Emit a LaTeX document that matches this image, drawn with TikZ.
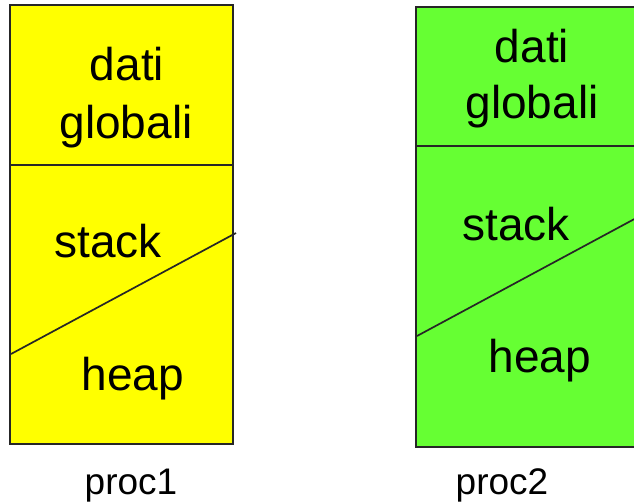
\documentclass[tikz,border=0pt]{standalone}
\usepackage{fontspec}
\setmainfont{Liberation Sans}
\definecolor{procyellow}{HTML}{FFFF00}
\definecolor{procgreen}{HTML}{66FF33}
\tikzset{
	area/.style={font=\fontsize{46}{46}\selectfont, anchor=base, inner sep=0pt},
	proclabel/.style={font=\fontsize{37}{37}\selectfont, anchor=base, inner sep=0pt},
	edge/.style={line width=1.7pt, draw=black!85}
}

\begin{document}
\begin{tikzpicture}[x=1pt, y=-1pt]
		%%%%% START %%%%%
		\useasboundingbox (0,0) rectangle (634,503);
		\clip (0,0) rectangle (634,503);
		
		% proc1
		\draw[edge, fill=procyellow] (10, 5) rectangle (233, 444);
		\draw[edge] (10, 165) -- (233, 165);
		\draw[edge] (11, 354) -- (236, 233);
		
		\node[area] (dati1) at (127, 80) {dati};
		\node[area] (glob1) at (126, 138) {globali};
		\node[area] (stack1) at (108, 257) {stack};
		\node[area] (heap1) at (133, 390) {heap};
		\node[proclabel] (proc1) at (131, 494) {proc1};
		
		% proc2
		\draw[edge, fill=procgreen] (416, 7) rectangle (650, 447);
		\draw[edge] (416, 146) -- (650, 146);
		\draw[edge] (417, 336) -- (640, 216);
		
		\node[area] (dati2) at (532, 63) {dati};
		\node[area] (glob2) at (532, 118) {globali};
		\node[area] (stack2) at (516, 240) {stack};
		\node[area] (heap2) at (540, 372) {heap};
		\node[proclabel] (proc2) at (502, 494) {proc2};
		
		%%%%% END %%%%%
	\end{tikzpicture}
\end{document}
